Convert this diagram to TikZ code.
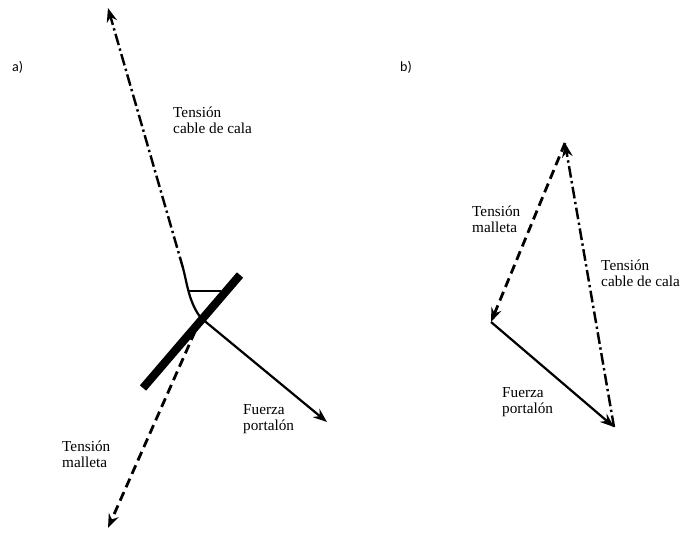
\documentclass[tikz,border=0pt]{standalone}
\usepackage{fontspec}
\setmainfont{Liberation Serif}
\newfontfamily\lblfont{Carlito}
\usetikzlibrary{arrows.meta}
\tikzset{
  cable/.style={line width=2.1pt, dash pattern=on 10pt off 3pt on 2pt off 3pt},
  malleta/.style={line width=2.4pt, dash pattern=on 8pt off 4.5pt},
  fuerza/.style={line width=1.9pt},
  tip/.style={-{Stealth[length=12pt,width=9pt,inset=4pt]}},
  lbl/.style={anchor=base west, inner sep=0pt, align=left, font=\fontsize{13}{13.6}\selectfont},
  part/.style={anchor=base west, inner sep=0pt, font=\lblfont\fontsize{12}{13}\selectfont}
}

\begin{document}
\begin{tikzpicture}[x=0.03cm, y=-0.03cm]
  \useasboundingbox (0,0) rectangle (682,533);

  % a)
  \node[part] (pa) at (12,71) {a)};
  \coordinate (J) at (201,318);
  \coordinate (K) at (183,268);
  \coordinate (Ctop) at (108,8);
  \coordinate (Fa) at (327,422);
  \coordinate (Ma) at (108,528);
  \coordinate (B1) at (143,388);
  \coordinate (B2) at (240,275);
  \coordinate (H1) at (188,291);
  \coordinate (H2) at (221,291);

  \draw[fuerza] (K) .. controls (187,283) and (189,303) .. (J);
  \draw[cable, tip] (K) -- (Ctop);
  \draw[line width=1.3pt] (H1) -- (H2);
  \draw[fuerza, tip] (J) -- (Fa);
  \draw[malleta, tip] (J) -- (Ma);
  \draw[line width=7pt] (B1) -- (B2);

  \node[lbl] (ca) at (173,133) {Tensión\\cable de cala};
  \node[lbl] (fa) at (243,430) {Fuerza\\portalón};
  \node[lbl] (ma) at (62,467) {Tensión\\malleta};

  % b)
  \node[part] (pb) at (400,71) {b)};
  \coordinate (T) at (565,143);
  \coordinate (L) at (491,322);
  \coordinate (R) at (614,427);

  \draw[malleta, tip] (T) -- (L);
  \draw[cable, tip] (R) -- (T);
  \draw[fuerza, tip] (L) -- (R);

  \node[lbl] (mb) at (472,232) {Tensión\\malleta};
  \node[lbl] (cb) at (601,286) {Tensión\\cable de cala};
  \node[lbl] (fb) at (502,413) {Fuerza\\portalón};
\end{tikzpicture}
\end{document}
